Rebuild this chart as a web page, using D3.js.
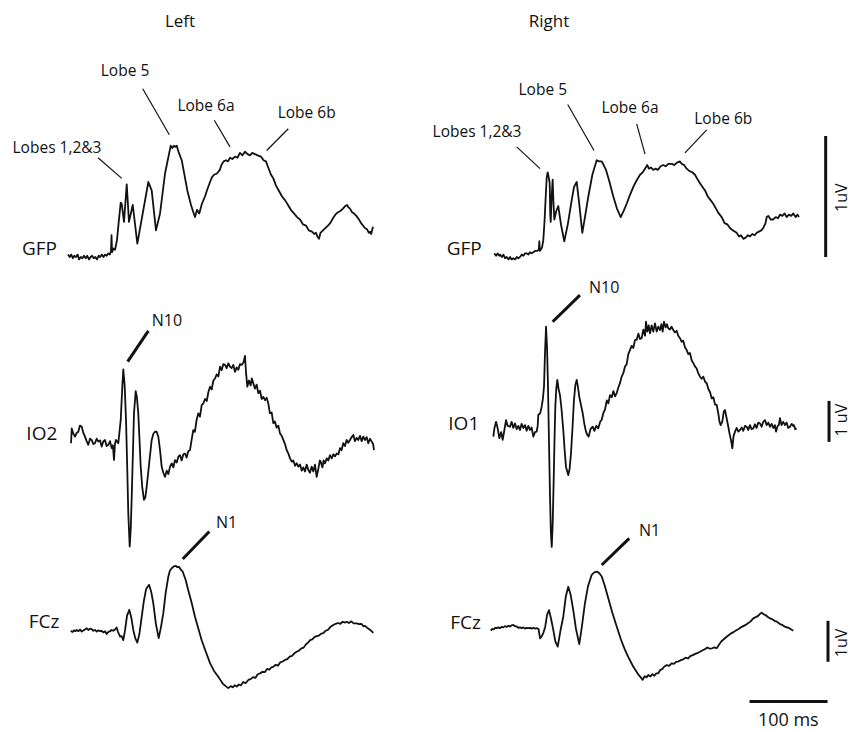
<!DOCTYPE html>
<html>
<head>
<meta charset="utf-8">
<script src="https://cdn.jsdelivr.net/npm/d3@7"></script>
<style>
  body { margin: 0; background: #fff; }
  svg { display: block; font-family: "Open Sans", sans-serif; }
</style>
</head>
<body>
<svg id="chart"></svg>
<script>
// time in ms from stimulus onset, amplitude in uV
const gfpLeft = [[-57.7,0.02],[-55.5,0.00],[-53.5,0.02],[-51.5,-0.01],[-49.5,0.01],[-47.4,0.00],[-45.3,0.02],[-43.5,-0.02],[-41.2,0.00],[-39.2,-0.01],[-37.2,0.01],[-35,-0.01],[-33,0.01],[-30.8,-0.02],[-28.7,0.00],[-26.9,0.01],[-24.6,-0.01],[-22.6,0.00],[-20.5,-0.02],[-18.4,0.01],[-16.4,0.00],[-14.3,0.02],[-12.2,0.00],[-10.1,0.02],[-8.1,0.01],[-6.1,0.03],[-4,0.02],[-2.6,0.05],[-1.9,0.18],[-1.2,0.04],[0.5,0.07],[2.6,0.06],[5.1,0.14],[7.5,0.30],[9.9,0.45],[11.2,0.44],[14.1,0.29],[17.6,0.60],[20.5,0.29],[25.3,0.43],[31.2,0.11],[38.1,0.36],[45.3,0.62],[49.6,0.55],[55.1,0.22],[60.3,0.36],[66.7,0.69],[74,0.92],[76,0.90],[78,0.92],[80,0.91],[81.7,0.92],[84.5,0.86],[88.1,0.80],[95.3,0.55],[100,0.43],[103,0.37],[105.1,0.33],[107.7,0.39],[110.6,0.36],[114,0.44],[117.9,0.50],[121,0.56],[124.4,0.62],[127,0.66],[129.5,0.68],[133.3,0.69],[137,0.72],[139,0.76],[141.8,0.79],[144.9,0.80],[147.5,0.79],[150,0.82],[153,0.81],[156.4,0.83],[159.5,0.82],[162.8,0.86],[166,0.84],[169.2,0.87],[172.5,0.85],[175.6,0.84],[178.5,0.86],[182,0.85],[185.5,0.84],[189.7,0.83],[193,0.80],[196.1,0.79],[199,0.74],[202.6,0.68],[205.5,0.65],[209,0.59],[212.5,0.55],[216.7,0.50],[220.5,0.47],[224.4,0.43],[228,0.39],[232,0.36],[236,0.33],[239.7,0.31],[243.5,0.27],[247.4,0.26],[251,0.22],[255.1,0.21],[258,0.19],[260.2,0.20],[262,0.17],[264.1,0.15],[266,0.20],[269.2,0.22],[272.5,0.24],[275.6,0.26],[278.5,0.28],[282,0.32],[285,0.35],[288.4,0.37],[291.5,0.38],[294.9,0.40],[297.5,0.42],[300,0.43],[302,0.41],[303.8,0.40],[306.5,0.37],[308.9,0.36],[312,0.34],[315.4,0.31],[318,0.28],[320.5,0.26],[323,0.24],[325.6,0.23],[328,0.20],[329.5,0.21],[331,0.19],[333.3,0.25]];

const gfpRight = [[-59.2,0.03],[-57,0.01],[-55,0.03],[-53,0.01],[-51.9,0.02],[-49.5,0.00],[-47.5,0.02],[-45.5,-0.01],[-43.3,0.00],[-41,-0.02],[-39,0.00],[-37,-0.02],[-34.9,-0.01],[-32.5,-0.02],[-30.5,0.00],[-28.5,-0.01],[-26.3,0.00],[-24,0.02],[-22,0.01],[-19.8,0.03],[-17.7,0.03],[-15.5,0.02],[-13.5,0.04],[-11.3,0.03],[-9.2,0.04],[-7,0.05],[-4.5,0.05],[-2.2,0.06],[-1.5,0.13],[-0.8,0.05],[0.3,0.06],[2,0.08],[3.6,0.14],[5.2,0.30],[6.7,0.50],[8,0.66],[9.2,0.70],[10.5,0.66],[11.8,0.61],[12.5,0.35],[13.1,0.29],[14.3,0.50],[15.6,0.64],[16.6,0.45],[17.7,0.31],[20.2,0.38],[22.8,0.42],[26.5,0.26],[30.5,0.13],[35,0.27],[40,0.47],[43,0.58],[46.4,0.62],[49.5,0.45],[53.6,0.20],[57,0.33],[61.3,0.50],[66.5,0.68],[72,0.80],[75,0.79],[78.5,0.79],[81,0.76],[84,0.72],[88.5,0.62],[93.3,0.50],[98,0.40],[102.8,0.33],[106.5,0.38],[110.5,0.44],[114.5,0.51],[119,0.58],[123,0.63],[127.6,0.68],[131,0.70],[134,0.73],[136.9,0.76],[139,0.73],[141.5,0.74],[144.6,0.72],[147.5,0.73],[150.5,0.72],[154,0.75],[157.4,0.76],[160.5,0.75],[164,0.77],[168.2,0.77],[171.5,0.76],[175,0.78],[178.8,0.79],[181,0.77],[184,0.76],[187.4,0.73],[191,0.71],[194.5,0.70],[198.1,0.68],[201.5,0.64],[205.5,0.60],[210.9,0.55],[214.5,0.50],[218,0.47],[221.5,0.44],[225,0.40],[228.5,0.36],[232.3,0.33],[236,0.28],[239.5,0.27],[242.9,0.24],[246.5,0.22],[249,0.21],[251.5,0.20],[254.5,0.17],[257,0.18],[260,0.15],[263,0.16],[266,0.18],[268.6,0.17],[271.5,0.19],[274.5,0.18],[277.2,0.20],[280,0.21],[283,0.22],[285.6,0.24],[288.5,0.28],[290,0.33],[292,0.34],[295,0.31],[298.5,0.31],[301.5,0.33],[304.5,0.32],[307,0.35],[310,0.34],[313,0.36],[315.6,0.33],[318.5,0.35],[321.5,0.34],[324.1,0.36],[327,0.33],[329.5,0.35],[331.4,0.33]];

const io2Left = [[-53.8,-0.03],[-52.9,0.33],[-50.8,0.20],[-48.7,0.13],[-46.6,0.22],[-44.5,0.25],[-42.4,0.40],[-40.1,0.37],[-38,0.22],[-35.9,0.13],[-33.8,0.02],[-31.7,-0.07],[-29.5,0.08],[-27.3,0.05],[-25.2,-0.05],[-23.1,-0.03],[-21,0.08],[-18.8,0.01],[-16.6,0.04],[-14.5,-0.11],[-12.4,0.02],[-10.3,0.05],[-8.2,-0.10],[-6.0,-0.07],[-3.8,0.02],[-1.7,-0.15],[-0.2,-0.08],[1.3,-0.44],[2.5,-0.05],[3.8,0.05],[6.8,-0.03],[9.9,0.54],[11.8,1.3],[13.2,1.77],[14.9,1.4],[16.7,0.54],[18.2,-0.6],[19.6,-1.74],[21.4,-2.55],[22.8,-2.1],[24.0,-1.33],[25.5,-0.3],[26.9,0.70],[29.1,1.24],[30.6,1.1],[32.4,0.70],[34,0.05],[35.5,-0.60],[37.5,-1.1],[39.7,-1.41],[41.5,-1.35],[43.2,-1.09],[46.5,-0.5],[49.6,0.05],[51.8,0.20],[53.8,0.25],[56,0.25],[58.1,0.13],[60.3,-0.20],[62.4,-0.60],[64.5,-0.75],[66.7,-0.85],[68.8,-0.70],[71,-0.78],[73.1,-0.60],[75.3,-0.52],[77.4,-0.62],[79.5,-0.44],[81.7,-0.50],[83.8,-0.36],[85.9,-0.32],[88,-0.45],[90.2,-0.30],[92.3,-0.28],[94.4,-0.38],[96.6,-0.22],[98.7,-0.20],[100.8,0.05],[102.9,0.29],[105,0.25],[107.3,0.55],[109.4,0.70],[111.5,0.62],[113.7,0.90],[115.8,0.94],[118,1.05],[120.2,1.00],[122.3,1.22],[124.4,1.35],[126.5,1.28],[128.7,1.50],[130.8,1.55],[133,1.65],[135.1,1.60],[137.2,1.84],[139.3,1.75],[141.5,1.90],[143.6,1.88],[145.7,1.80],[147.9,1.92],[150,1.84],[152.1,1.80],[154.3,1.88],[156.4,1.71],[158.5,1.82],[160.7,1.76],[162.8,1.90],[165,1.88],[167.5,1.95],[169.2,2.10],[170.5,1.7],[172.2,1.35],[174.3,1.50],[176.5,1.38],[178,1.55],[179.9,1.43],[182,1.30],[184.2,1.40],[186.3,1.19],[188.5,1.25],[190.6,1.05],[192.7,1.10],[194.9,1.02],[197,1.08],[199.1,0.94],[201.2,0.70],[203.4,0.72],[205.5,0.46],[207.6,0.50],[209.8,0.35],[212,0.40],[214.1,0.21],[216.3,0.15],[218.4,0.05],[220.5,-0.05],[222.7,-0.20],[224.8,-0.28],[227,-0.40],[229.1,-0.48],[231.2,-0.45],[233.4,-0.58],[235.5,-0.52],[237.6,-0.60],[239.8,-0.55],[242,-0.70],[244,-0.62],[246.1,-0.72],[248.3,-0.55],[250.4,-0.68],[252.5,-0.75],[254.7,-0.60],[256.8,-0.72],[259,-0.55],[261.1,-0.85],[263.3,-0.65],[265.2,-0.45],[266.3,-0.48],[268.5,-0.62],[270,-0.45],[271.8,-0.52],[274,-0.40],[276,-0.45],[278.2,-0.32],[280.4,-0.40],[282.5,-0.30],[284.7,-0.35],[286.8,-0.28],[289,-0.30],[291,-0.15],[293,-0.20],[295.2,-0.03],[297.4,-0.10],[299.5,0.05],[301.6,-0.02],[303.8,0.05],[306,0.12],[308.1,0.17],[310.2,0.02],[312.4,0.10],[314.5,0.05],[316.7,0.15],[318.8,0.02],[320.9,0.13],[323,0.05],[325.2,0.12],[327.3,-0.03],[329.5,0.08],[331.7,0.01],[333.5,-0.05],[334.6,-0.20]];

const io1Right = [[-60.5,-0.16],[-59,0.05],[-57,0.20],[-55,0.05],[-52.8,-0.20],[-50.5,-0.05],[-48.5,-0.24],[-46.3,0.00],[-44.2,0.24],[-42,0.10],[-39.1,0.08],[-37,0.20],[-34.9,0.05],[-32.7,0.16],[-30.5,0.02],[-28.4,0.10],[-26.3,0.00],[-24.2,0.15],[-22,0.05],[-19.9,0.12],[-17.8,-0.02],[-15.6,0.10],[-13.5,0.00],[-11.4,0.06],[-9.2,-0.16],[-7,-0.05],[-4.9,-0.04],[-3.6,0.10],[-2.8,0.37],[-0.5,0.40],[1.5,0.57],[3,0.75],[4.5,1.06],[5.8,1.9],[7.1,2.52],[8.4,2.0],[9.6,1.06],[10.9,-0.3],[12.2,-1.63],[13.3,-2.5],[14.4,-2.85],[15.6,-2.3],[16.9,-1.22],[18,-0.2],[19.0,0.57],[20.2,1.0],[21.5,1.22],[23.2,1.0],[25.0,0.85],[27,0.50],[29.2,0.00],[31,-0.5],[32.7,-0.90],[35.6,-1.10],[37.3,-0.95],[39.1,-0.57],[41,0.05],[42.9,0.73],[44.7,1.10],[46.4,1.22],[48,1.05],[49.7,0.81],[52,0.60],[54.1,0.41],[56.2,0.15],[58.3,-0.04],[60,-0.12],[61.8,-0.16],[64,0.02],[66.9,0.08],[69.1,-0.02],[71.5,0.10],[74.1,0.04],[76.5,0.20],[78.5,0.25],[80.5,0.41],[82.7,0.50],[85,0.72],[87,0.65],[89.1,0.85],[91.3,0.80],[93.5,0.95],[95.6,0.82],[97.7,0.90],[100,1.05],[102,1.15],[104,1.30],[106.1,1.38],[108.3,1.55],[110.4,1.60],[112.6,1.85],[114.7,1.95],[116.8,2.05],[119,2.00],[121.2,2.20],[123.3,2.20],[125.5,2.35],[127.6,2.22],[129.7,2.24],[131.9,2.45],[134,2.30],[135.3,2.64],[137,2.40],[138.7,2.55],[140.4,2.36],[142.5,2.55],[144.6,2.40],[146.8,2.60],[149,2.40],[151,2.52],[153.2,2.44],[155,2.58],[156.6,2.40],[158.3,2.64],[160.5,2.50],[162,2.58],[163.8,2.48],[166,2.45],[168,2.52],[170.2,2.44],[172.3,2.38],[174.5,2.42],[176.6,2.30],[178.8,2.24],[181,2.15],[183,2.18],[185.2,2.02],[187.4,1.95],[189.5,1.85],[191.6,1.88],[193.8,1.70],[195.9,1.63],[198,1.55],[200.2,1.50],[202.3,1.38],[204.5,1.30],[206.6,1.25],[208.8,1.30],[211,1.18],[213.1,1.14],[215.2,1.00],[217.4,0.92],[219.5,0.77],[221.6,0.80],[223.8,0.62],[225.9,0.61],[228,0.40],[229.5,0.20],[231.0,0.12],[233,0.20],[235,0.45],[236.5,0.49],[238.5,0.30],[240.8,0.08],[242.5,-0.10],[244.3,-0.25],[245.9,-0.45],[247.5,-0.15],[249.4,-0.04],[251.5,0.05],[253.6,-0.04],[255.8,0.00],[258,0.06],[260,-0.02],[262.2,0.10],[264.3,0.08],[266.4,0.00],[268.5,0.12],[270.6,0.02],[272.8,0.04],[275,0.14],[277,0.05],[279.2,0.18],[281.4,0.16],[283.5,0.08],[285.6,0.20],[287.8,0.24],[290,0.12],[292,0.18],[294.2,0.08],[296.3,0.15],[298.5,0.05],[300.5,0.12],[301.9,-0.04],[304,0.10],[305.5,0.12],[307,0.29],[309,0.12],[311.2,0.20],[313.4,0.12],[315.5,0.18],[317.6,0.05],[319.8,0.08],[322,0.15],[324,0.10],[325,0.12],[326.5,0.02],[328.4,0.04]];

const fczLeft = [[-54.2,0.03],[-52,0.00],[-50,0.04],[-48,0.02],[-46.5,0.05],[-44.3,0.02],[-42.2,0.06],[-40.1,0.01],[-38,0.04],[-35.8,0.06],[-33.7,0.09],[-31.6,0.05],[-29.4,0.08],[-27.3,0.07],[-25.2,0.03],[-23,0.05],[-20.9,0.01],[-18.8,0.04],[-16.6,0.02],[-14.5,0.03],[-12.4,-0.01],[-10.2,0.02],[-8.1,-0.05],[-6,0.00],[-3.8,0.02],[-1.7,0.05],[0.5,0.03],[2.6,0.06],[4.7,0.11],[6.5,0.00],[9.0,-0.11],[11,-0.10],[13.2,-0.20],[15.5,0.05],[18,0.40],[20.9,0.54],[23.5,0.35],[26.0,0.05],[28.5,-0.15],[31.2,-0.26],[33.8,-0.05],[36.8,0.37],[39.5,0.75],[42.5,1.05],[46.2,1.15],[49,0.98],[51.7,0.70],[55,0.20],[58.6,-0.15],[61.5,0.12],[64.5,0.46],[67.5,0.95],[70.9,1.35],[73,1.50],[75.6,1.56],[78,1.60],[80.8,1.61],[82.6,1.58],[84.6,1.59],[87,1.52],[89.4,1.47],[93,1.28],[96.5,1.02],[101,0.70],[105.1,0.37],[109.5,0.08],[113.7,-0.20],[119,-0.48],[124.4,-0.76],[129.5,-0.95],[135,-1.09],[138,-1.18],[141.1,-1.27],[144.5,-1.32],[147.8,-1.37],[151,-1.32],[153.5,-1.35],[156,-1.30],[158.6,-1.33],[161.5,-1.28],[164,-1.30],[167,-1.22],[170,-1.25],[173.5,-1.17],[176.5,-1.15],[179.5,-1.10],[182.5,-1.12],[185.5,-1.03],[188.5,-1.01],[191.5,-0.97],[194.5,-0.98],[197.5,-0.90],[200.5,-0.92],[203,-0.86],[205.5,-0.85],[208.5,-0.80],[211.5,-0.82],[214.5,-0.74],[217.5,-0.72],[220.5,-0.68],[223.5,-0.66],[226.5,-0.60],[229.5,-0.58],[232.5,-0.52],[235.5,-0.48],[238.5,-0.45],[241.5,-0.40],[244.5,-0.38],[247.5,-0.30],[250,-0.26],[252.6,-0.20],[255.5,-0.18],[258.5,-0.12],[261.5,-0.10],[264.5,-0.08],[267,-0.04],[269.6,-0.03],[272.5,0.03],[275.5,0.05],[278.5,0.12],[282.4,0.17],[285.5,0.20],[288.5,0.22],[291.5,0.20],[294.5,0.25],[297.5,0.23],[299.6,0.25],[302.5,0.22],[305.5,0.26],[308.5,0.21],[312.4,0.21],[315.5,0.19],[318.5,0.20],[321,0.14],[323.1,0.15],[326,0.10],[329,0.06],[331.5,0.02],[333.7,-0.02]];

const fczRight = [[-63.8,-0.04],[-62,0.00],[-60,-0.01],[-58,0.03],[-56.2,0.02],[-54,0.04],[-52,0.02],[-50,0.05],[-47.7,0.04],[-45.5,0.07],[-43.3,0.05],[-41,0.08],[-39,0.06],[-37,0.09],[-34.9,0.10],[-32.5,0.07],[-30.5,0.06],[-28.4,0.03],[-26.3,0.04],[-24.2,0.02],[-22,0.04],[-20,0.01],[-17.8,0.03],[-15.6,0.02],[-13.5,0.03],[-11.3,0.01],[-9.2,0.03],[-7,0.01],[-4.9,0.02],[-2.5,0.00],[-0.6,-0.23],[1.5,-0.18],[3.6,-0.10],[6,0.05],[8.5,0.35],[10.9,0.46],[13.5,0.25],[16.4,-0.02],[19,-0.30],[22.1,-0.43],[25.5,-0.05],[29.2,0.30],[32.5,0.80],[35.6,1.03],[38.5,0.85],[42.0,0.46],[45.5,0.00],[49.7,-0.37],[53,0.05],[57.0,0.63],[61,1.05],[65.6,1.32],[69,1.38],[72.0,1.40],[75,1.37],[78.5,1.28],[82.5,1.05],[86.9,0.75],[92,0.40],[97.7,0.06],[103,-0.25],[108.3,-0.51],[113.5,-0.72],[119.0,-0.92],[125,-1.10],[128.5,-1.18],[131.0,-1.24],[133.5,-1.15],[136,-1.18],[138.2,-1.12],[141,-1.16],[143.5,-1.10],[146,-1.14],[148.5,-1.08],[151.0,-1.08],[153.5,-1.00],[156,-0.98],[158.5,-0.92],[161.8,-0.88],[165,-0.90],[168,-0.84],[171,-0.85],[174,-0.80],[177,-0.79],[180,-0.76],[183,-0.74],[186,-0.70],[189,-0.72],[192,-0.66],[195.9,-0.63],[199,-0.60],[202,-0.58],[205,-0.55],[208,-0.52],[211,-0.49],[214,-0.45],[217,-0.48],[220,-0.47],[223,-0.45],[225.9,-0.47],[229,-0.38],[232,-0.30],[235,-0.25],[238.7,-0.19],[242,-0.14],[245,-0.10],[248,-0.07],[251,-0.03],[254,0.00],[257,0.04],[260,0.07],[263,0.10],[266,0.14],[269,0.18],[272.8,0.26],[276,0.29],[279,0.32],[281.5,0.37],[283.6,0.40],[286,0.36],[288.5,0.34],[291,0.30],[294.2,0.26],[297,0.24],[300,0.20],[303,0.18],[307,0.12],[310,0.10],[313,0.06],[316,0.04],[319,0.02],[322,-0.02],[324.1,-0.04]];

const panelTitles = ["Left", "Right"];
const lobeLabels = ["Lobes 1,2&3", "Lobe 5", "Lobe 6a", "Lobe 6b"];
// annotation anchors in [ms, uV]: text position, leader start, leader end
const lobeLeft = [
  [[-71.8,0.86],[-19.2,0.82],[11.2,0.65]],
  [[15.4,1.50],[38.1,1.39],[72.2,1.01]],
  [[119.2,1.21],[129.9,1.13],[150,0.91]],
  [[248.3,1.15],[224.7,1.06],[197,0.88]]
];
const lobeRight = [
  [[-81.4,0.99],[-30.5,0.91],[-0.6,0.73]],
  [[2.9,1.34],[34.9,1.26],[68.6,0.88]],
  [[114.7,1.19],[123.3,1.10],[134,0.85]],
  [[234.3,1.10],[213.1,1.05],[185.2,0.86]]
];

const width = 853, height = 731;
const pxPerMs = 0.78;
const onset = { left: 113, right: 540.5 };
const rowBase = { gfp: { left: 257, right: 257 }, io: { left: 442, right: 430 }, fcz: { left: 632, right: 629 } };
const pxPerUv = { gfp: 121, io: 41, fcz: 41 };

const x = side => d3.scaleLinear().domain([0, 100]).range([onset[side], onset[side] + 100 * pxPerMs]);
const y = (row, side) => d3.scaleLinear().domain([0, 1]).range([rowBase[row][side], rowBase[row][side] - pxPerUv[row]]);

const svg = d3.select("#chart")
  .attr("width", width)
  .attr("height", height)
  .attr("viewBox", [0, 0, width, height]);

const traces = [
  { side: "left", row: "gfp", data: gfpLeft, name: "GFP", at: [-71.8, 0.02] },
  { side: "right", row: "gfp", data: gfpRight, name: "GFP", at: [-75.4, 0.02] },
  { side: "left", row: "io", data: io2Left, name: "IO2", at: [-71.4, 0.05] },
  { side: "right", row: "io", data: io1Right, name: "IO1", at: [-78.5, 0.0] },
  { side: "left", row: "fcz", data: fczLeft, name: "FCz", at: [-68.8, 0.10] },
  { side: "right", row: "fcz", data: fczRight, name: "FCz", at: [-76.3, 0.0] }
];

// traces
traces.forEach(tr => {
  const sx = x(tr.side), sy = y(tr.row, tr.side);
  svg.append("path")
    .datum(tr.data)
    .attr("fill", "none")
    .attr("stroke", "#111")
    .attr("stroke-width", 1.8)
    .attr("stroke-linejoin", "round")
    .attr("d", d3.line().x(d => sx(d[0])).y(d => sy(d[1])));

  svg.append("text")
    .attr("x", sx(tr.at[0]))
    .attr("y", sy(tr.at[1]))
    .attr("text-anchor", "end")
    .attr("font-size", 19)
    .attr("fill", "#111")
    .text(tr.name);
});

// titles
svg.selectAll(".title")
  .data(panelTitles)
  .join("text")
  .attr("class", "title")
  .attr("x", (d, i) => i === 0 ? x("left")(85.9) : x("right")(10.9))
  .attr("y", 27)
  .attr("text-anchor", "middle")
  .attr("font-size", 17)
  .attr("fill", "#111")
  .text(d => d);

// lobe annotations on GFP
[["left", lobeLeft], ["right", lobeRight]].forEach(([side, anns]) => {
  const sx = x(side), sy = y("gfp", side);
  anns.forEach((a, i) => {
    svg.append("line")
      .attr("x1", sx(a[1][0])).attr("y1", sy(a[1][1]))
      .attr("x2", sx(a[2][0])).attr("y2", sy(a[2][1]))
      .attr("stroke", "#111").attr("stroke-width", 1.2);
    svg.append("text")
      .attr("x", sx(a[0][0])).attr("y", sy(a[0][1]))
      .attr("text-anchor", "middle")
      .attr("font-size", 15.5)
      .attr("fill", "#111")
      .text(lobeLabels[i]);
  });
});

// N10 / N1 markers
const peaks = [
  { side: "left", row: "io", name: "N10", text: [49.6, 2.83], from: [45.3, 2.71], to: [18.8, 1.96] },
  { side: "left", row: "fcz", name: "N1", text: [132, 2.54], from: [123.5, 2.45], to: [89.4, 1.78] },
  { side: "right", row: "io", name: "N10", text: [62.2, 3.34], from: [50.6, 3.29], to: [15.6, 2.64] },
  { side: "right", row: "fcz", name: "N1", text: [126.3, 2.27], from: [113.8, 2.21], to: [78.5, 1.56] }
];
peaks.forEach(p => {
  const sx = x(p.side), sy = y(p.row, p.side);
  svg.append("line")
    .attr("x1", sx(p.from[0])).attr("y1", sy(p.from[1]))
    .attr("x2", sx(p.to[0])).attr("y2", sy(p.to[1]))
    .attr("stroke", "#111").attr("stroke-width", 3);
  svg.append("text")
    .attr("x", sx(p.text[0])).attr("y", sy(p.text[1]))
    .attr("font-size", 16)
    .attr("fill", "#111")
    .text(p.name);
});

// scale bars (right side)
const vBars = [
  { row: "gfp", t: 365.6, v0: 0.0, label: "1uV", ly: 0.49 },
  { row: "io", t: 369.9, v0: -0.29, label: "1 uV", ly: 0.24 },
  { row: "fcz", t: 368.6, v0: -0.80, label: "1uV", ly: -0.34 }
];
const sxR = x("right");
vBars.forEach(b => {
  const sy = y(b.row, "right");
  svg.append("line")
    .attr("x1", sxR(b.t)).attr("x2", sxR(b.t))
    .attr("y1", sy(b.v0)).attr("y2", sy(b.v0 + 1))
    .attr("stroke", "#111").attr("stroke-width", 3);
  svg.append("text")
    .attr("transform", `translate(${sxR(393.5)},${sy(b.ly)}) rotate(-90)`)
    .attr("text-anchor", "middle")
    .attr("font-size", 16)
    .attr("fill", "#111")
    .text(b.label);
});

const syF = y("fcz", "right");
svg.append("line")
  .attr("x1", sxR(268)).attr("x2", sxR(368))
  .attr("y1", syF(-1.77)).attr("y2", syF(-1.77))
  .attr("stroke", "#111").attr("stroke-width", 3);
svg.append("text")
  .attr("x", sxR(317.7)).attr("y", syF(-2.37))
  .attr("text-anchor", "middle")
  .attr("font-size", 18)
  .attr("fill", "#111")
  .text("100 ms");
</script>
</body>
</html>
